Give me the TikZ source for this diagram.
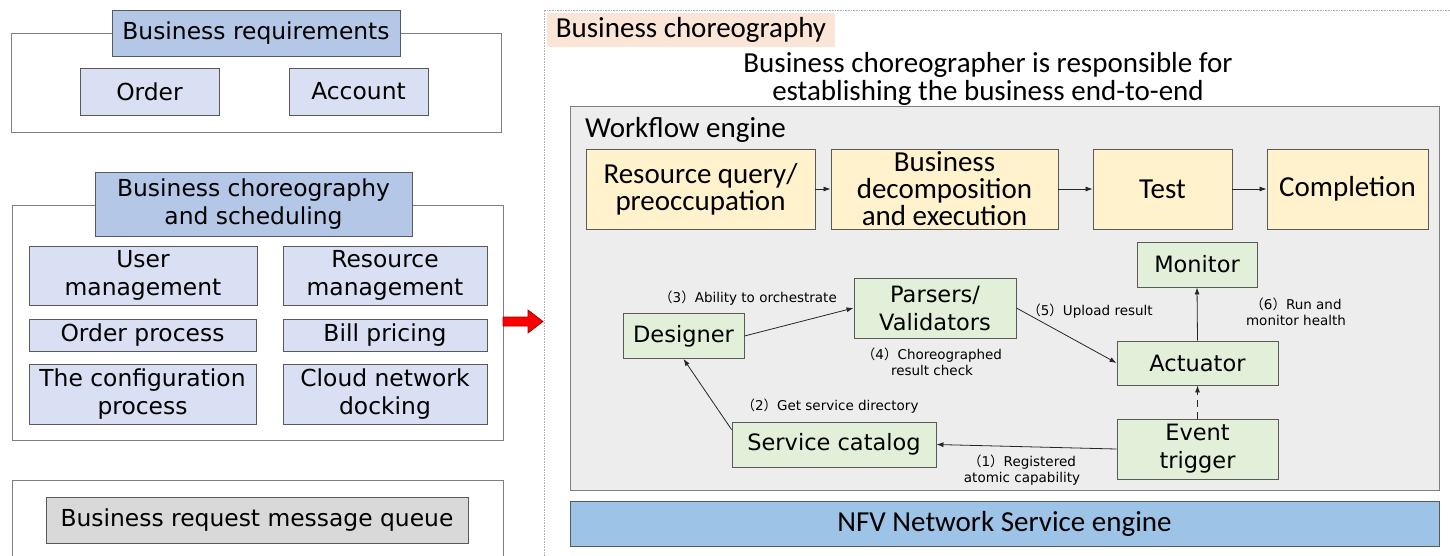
\documentclass[tikz,border=0pt]{standalone}
\usepackage{fontspec}
\setmainfont{DejaVu Sans}
\newfontfamily\cfont{Carlito}
\newfontfamily\cjk{Noto Sans CJK SC}
\usetikzlibrary{arrows.meta,calc}

\definecolor{titleblue}{HTML}{B4C7E7}
\definecolor{itemblue}{HTML}{DAE0F3}
\definecolor{qgray}{HTML}{D9D9D9}
\definecolor{peach}{HTML}{FBE5D6}
\definecolor{wfgray}{HTML}{EDEDED}
\definecolor{ylw}{HTML}{FFF2CC}
\definecolor{grn}{HTML}{E2F0D9}
\definecolor{nfvblue}{HTML}{9DC3E6}
\definecolor{edgegray}{HTML}{595959}
\definecolor{framegray}{HTML}{7F7F7F}
\definecolor{arrowred}{HTML}{FF0000}
\definecolor{arrowdark}{HTML}{A00000}

\newcommand\ftleft{\fontsize{23.4}{28}\selectfont}
\newcommand\ftcomp{\fontsize{22.5}{28}\selectfont}
\newcommand\ftcal{\cfont\fontsize{29}{27}\selectfont}
\newcommand\ftsmall{\fontsize{13.5}{16}\selectfont}
\newcommand\nb[1]{{\cjk （}#1{\cjk ）}}

\tikzset{
  panel/.style={draw=framegray, line width=0.9pt},
  box/.style={draw=edgegray, line width=0.9pt, inner sep=0pt, align=center},
  titlebox/.style={box, fill=titleblue, font=\ftleft},
  itembox/.style={box, fill=itemblue, font=\ftleft},
  graybox/.style={box, fill=qgray, font=\ftleft},
  flowbox/.style={box, fill=ylw, font=\ftcal},
  compbox/.style={box, fill=grn, font=\ftcomp},
  note/.style={font=\ftsmall, align=center, inner sep=0pt},
  link/.style={-{Latex[length=7pt,width=5pt]}, line width=0.8pt, black!85},
}

\begin{document}
\begin{tikzpicture}[x=1pt,y=-1pt]
\useasboundingbox (0,0) rectangle (1450,555);
\clip (0,0) rectangle (1450,555);

% ---------- left column ----------
\draw[panel] (11,33) rectangle (501,132);
\node[titlebox, minimum width=288pt, minimum height=46pt] (req) at (256,33) {Business requirements};
\node[itembox, minimum width=139pt, minimum height=47pt] (order) at (149.5,91.5) {Order};
\node[itembox, minimum width=139pt, minimum height=47pt] (account) at (358.5,91.5) {Account};

\draw[panel] (12,205) rectangle (503,440);
\node[titlebox, minimum width=317pt, minimum height=64pt] (sched) at (253.5,204) {Business choreography\\and scheduling};
\node[itembox, minimum width=228pt, minimum height=59pt] (user) at (143,275.5) {User\\management};
\node[itembox, minimum width=204pt, minimum height=59pt] (res) at (385,275.5) {Resource\\management};
\node[itembox, minimum width=227pt, minimum height=32pt] (oproc) at (142.5,335) {Order process};
\node[itembox, minimum width=204pt, minimum height=32pt] (bill) at (385,335) {Bill pricing};
\node[itembox, minimum width=227pt, minimum height=60pt] (conf) at (142.5,394) {The configuration\\process};
\node[itembox, minimum width=204pt, minimum height=60pt] (cloud) at (385,394) {Cloud network\\docking};

\draw[panel] (12,480) rectangle (503,575);
\node[graybox, minimum width=422pt, minimum height=46pt] (queue) at (257,520) {Business request message queue};

% red transfer arrow
\draw[fill=arrowred, draw=arrowdark, line width=0.7pt]
  (503,317) -- (528,317) -- (528,310) -- (543,321.5) -- (528,333) -- (528,326) -- (503,326) -- cycle;

% ---------- right panel ----------
\draw[densely dotted, draw=black!30, line width=0.6pt] (544,575) -- (544,10) -- (1470,10);
\node[fill=peach, minimum width=288pt, minimum height=34pt, inner sep=0pt, font=\ftcal] (bc) at (691,30) {Business choreography};
\node[font=\ftcal, align=center, inner sep=0pt] (desc) at (988,79) {Business choreographer is responsible for\\[1pt]establishing the business end-to-end};

\draw[draw=framegray, fill=wfgray, line width=0.9pt] (570,106) rectangle (1439,490);
\node[font=\ftcal, anchor=west, inner sep=0pt] (wf) at (585,130) {Workflow engine};

\node[flowbox, minimum width=229pt, minimum height=80pt] (rq) at (700.5,189) {Resource query/\\preoccupation};
\node[flowbox, minimum width=227pt, minimum height=80pt] (dec) at (944.5,189) {Business\\decomposition\\and execution};
\node[flowbox, minimum width=139pt, minimum height=80pt] (test) at (1162.5,189) {Test};
\node[flowbox, minimum width=161pt, minimum height=80pt] (comp) at (1347.5,189) {Completion};
\draw[link] (rq) -- (dec);
\draw[link] (dec) -- (test);
\draw[link] (test) -- (comp);

\node[compbox, minimum width=120pt, minimum height=45pt] (mon) at (1197,264.5) {Monitor};
\node[compbox, minimum width=162pt, minimum height=60pt] (pars) at (935,308) {Parsers/\\Validators};
\node[compbox, minimum width=121pt, minimum height=45pt] (des) at (683.5,336) {Designer};
\node[compbox, minimum width=161pt, minimum height=44pt] (act) at (1197.5,363) {Actuator};
\node[compbox, minimum width=204pt, minimum height=45pt] (cat) at (834,444.5) {Service catalog};
\node[compbox, minimum width=161pt, minimum height=60pt] (evt) at (1197.5,449) {Event\\trigger};

\draw[link] (des.east) -- (pars.west);
\draw[link] (pars.east) -- (act.west);
\draw[link] (act.north) -- (mon.south);
\draw[link, dash pattern=on 7pt off 5pt] (evt.north) -- (act.south);
\draw[link] (evt.west) -- (cat.east);
\draw[link] ([yshift=-8pt]cat.north west) -- (des.south);

\node[note] (n3) at (748,298) {\nb{3}Ability to orchestrate};
\node[note] (n4) at (932,362) {\nb{4}Choreographed\\result check};
\node[note] (n2) at (830,406) {\nb{2}Get service directory};
\node[note] (n1) at (1022,470) {\nb{1}Registered\\atomic capability};
\node[note] (n5) at (1090,311) {\nb{5}Upload result};
\node[note] (n6) at (1296,312) {\nb{6}Run and\\monitor health};

\node[box, fill=nfvblue, minimum width=869pt, minimum height=45pt, font=\ftcal] (nfv) at (1004.5,523.5) {NFV Network Service engine};
\end{tikzpicture}
\end{document}
